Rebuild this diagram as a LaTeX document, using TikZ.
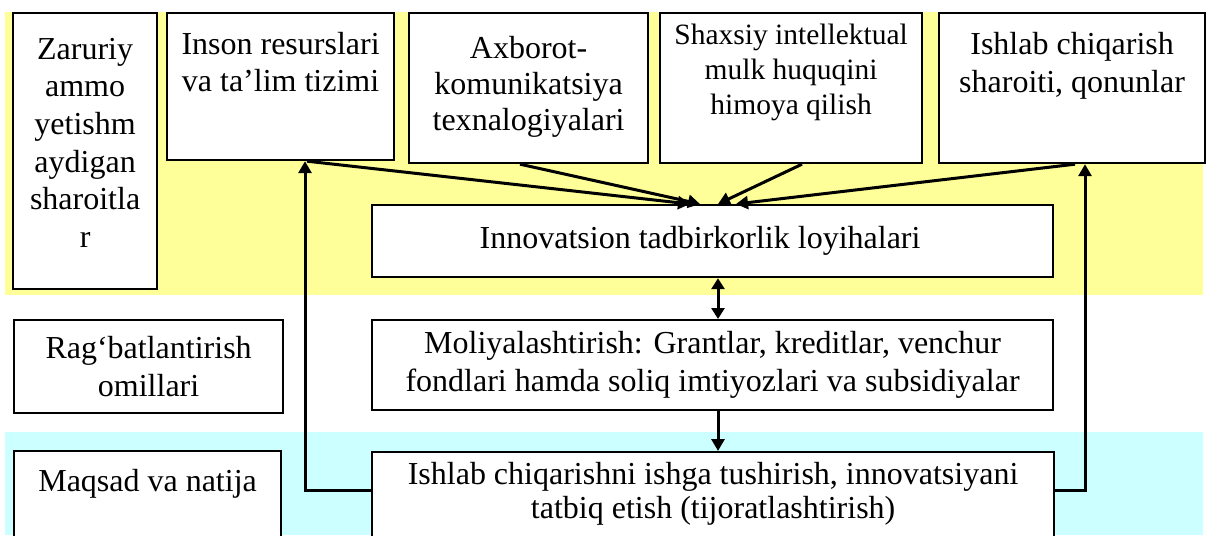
\documentclass[tikz,border=0pt]{standalone}
\usepackage{fontspec}
\setmainfont{Liberation Serif}
\usetikzlibrary{arrows.meta}
\definecolor{bandY}{HTML}{FFFF99}
\definecolor{bandC}{HTML}{CCFFFF}
\newcommand\bxt[6]{\begin{minipage}[c][#2][#3]{#1}\centering\baselineskip=#5\relax\vskip#4\relax #6\end{minipage}}
\tikzset{
  box/.style={draw, line width=2.2pt, fill=white, inner sep=0pt, anchor=north west,
              font=\fontsize{32}{37.5}\selectfont},
  conn/.style={line width=3pt, -{Triangle[length=12pt,width=13pt]}},
  conntwo/.style={line width=3pt, {Triangle[length=11pt,width=13pt]}-{Triangle[length=11pt,width=13pt]}}
}
\begin{document}
\begin{tikzpicture}[x=1pt,y=-1pt]
\useasboundingbox (0,0) rectangle (1206,535);
\clip (0,0) rectangle (1206,535);
% bands
\fill[bandY] (5,12) rectangle (1203,295);
\fill[bandC] (5,432) rectangle (1203,535);
% boxes
\node[box] (zaruriy) at (12,12) {\bxt{144pt}{276pt}{t}{25pt}{37.6pt}{Zaruriy\\ ammo\\ yetishm\\ aydigan\\ sharoitla\\ r}};
\node[box] (inson) at (166,12) {\bxt{227pt}{147pt}{t}{19pt}{37pt}{Inson resurslari\\ va ta’lim tizimi}};
\node[box] (axborot) at (408,12) {\bxt{239pt}{150pt}{t}{23pt}{36pt}{Axborot-\\ komunikatsiya\\ texnalogiyalari}};
\node[box, font=\fontsize{29.5}{35}\selectfont] (shaxsiy) at (659,12) {\bxt{262pt}{150pt}{t}{11pt}{35pt}{Shaxsiy intellektual\\ mulk huquqini\\ himoya qilish}};
\node[box] (sharoit) at (938,12) {\bxt{266pt}{150pt}{t}{19pt}{38pt}{Ishlab chiqarish\\ sharoiti, qonunlar}};
\node[box] (innov) at (371,204) {\bxt{681pt}{72pt}{c}{0pt}{37.5pt}{Innovatsion tadbirkorlik loyihalari\hspace*{25pt}}};
\node[box] (rag) at (13,319) {\bxt{269pt}{93pt}{c}{0pt}{38pt}{Rag‘batlantirish\\ omillari}};
\node[box] (moli) at (371,319) {\bxt{681pt}{90pt}{c}{0pt}{38pt}{Moliyalashtirish: Grantlar, kreditlar, venchur\\ fondlari hamda soliq imtiyozlari va subsidiyalar}};
\node[box] (maqsad) at (13,450) {\bxt{267pt}{95pt}{t}{18pt}{37.5pt}{Maqsad va natija}};
\node[box] (ishlab) at (371,451) {\bxt{682pt}{94pt}{t}{10pt}{34pt}{Ishlab chiqarishni ishga tushirish, innovatsiyani\\ tatbiq etish (tijoratlashtirish)}};
% connectors
\draw[conn] ([xshift=141pt]inson.south west) -- ([xshift=319pt]innov.north west);
\draw[conn] ([xshift=112pt]axborot.south west) -- ([xshift=329pt]innov.north west);
\draw[conn] ([xshift=143pt]shaxsiy.south west) -- ([xshift=347pt]innov.north west);
\draw[conn] ([xshift=137pt]sharoit.south west) -- ([xshift=365pt]innov.north west);
\draw[conntwo] ([xshift=347pt]innov.south west) -- ([xshift=347pt]moli.north west);
\draw[conn] ([xshift=347pt]moli.south west) -- ([xshift=347pt]ishlab.north west);
\draw[conn] ([yshift=-39pt]ishlab.north west) -| ([xshift=139pt]inson.south west);
\draw[conn] ([yshift=-39pt]ishlab.north east) -| ([xshift=147pt]sharoit.south west);
\end{tikzpicture}
\end{document}
